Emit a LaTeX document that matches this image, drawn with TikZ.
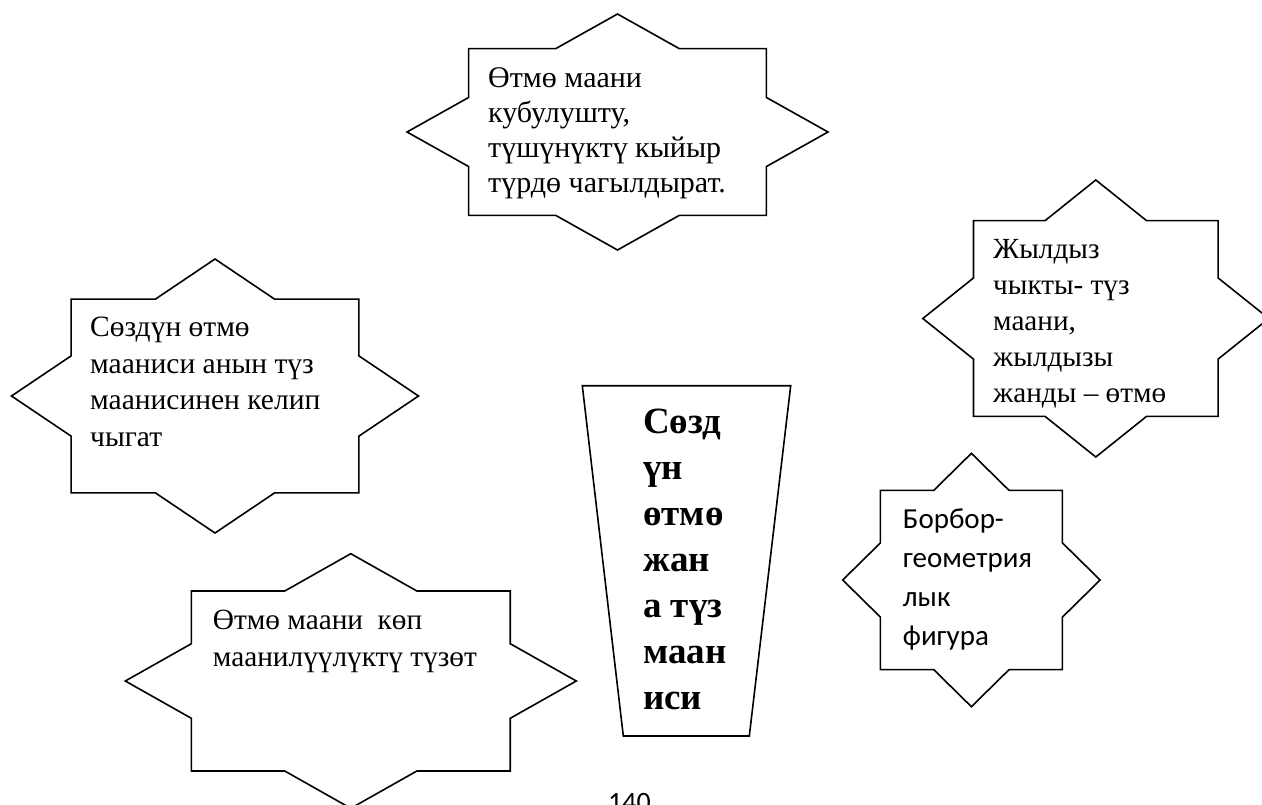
\documentclass[tikz,border=0pt]{standalone}
\usepackage{fontspec}
\setmainfont{Liberation Serif}
\newfontfamily\calibrifont{Carlito}
\tikzset{
  starline/.style={draw=black, line width=1.6pt, line join=miter, fill=white},
  startext/.style={anchor=base west, inner sep=0pt, align=left},
}
% anchor base west of a multi-line node = baseline of its last line
\newcommand\eightstar[4]{%
  \draw[starline, shift={(#1,#2)}, x=#3pt, y=#4pt]
    (0:1) -- (22.5:0.7654) -- (45:1) -- (67.5:0.7654) -- (90:1) -- (112.5:0.7654)
    -- (135:1) -- (157.5:0.7654) -- (180:1) -- (202.5:0.7654) -- (225:1)
    -- (247.5:0.7654) -- (270:1) -- (292.5:0.7654) -- (315:1) -- (337.5:0.7654) -- cycle;}
\begin{document}
\begin{tikzpicture}[x=1pt, y=-1pt]
\useasboundingbox (0,0) rectangle (1262,804);
\fill[white] (0,0) rectangle (1262,804);
\clip (0,0) rectangle (1262,804);

% stars
\eightstar{617.5}{132}{210.5}{118}
\eightstar{215}{396}{203.5}{137}
\eightstar{1095.8}{318.5}{173}{138.5}
\eightstar{971.4}{580}{128.7}{126.7}
\eightstar{350.8}{681}{225.5}{127.3}

% trapezoid
\draw[starline] (582.3,385.7) -- (790.7,385.7) -- (749.3,736) -- (623.3,736) -- cycle;

% texts (positions are the baseline of the last line)
\node[startext, font=\fontsize{30}{35}\selectfont] (t1) at (488,192)
  {Өтмө маани\\кубулушту,\\түшүнүктү кыйыр\\түрдө чагылдырат.};
\node[startext, font=\fontsize{29.5}{36.7}\selectfont] (t2) at (90,446.4)
  {Сөздүн өтмө\\мааниси анын түз\\маанисинен келип\\чыгат};
\node[startext, font=\fontsize{29.2}{36}\selectfont] (t3) at (993,402)
  {Жылдыз\\чыкты- түз\\маани,\\жылдызы\\жанды – өтмө};
\node[startext, font=\calibrifont\fontsize{29}{39}\selectfont] (t4) at (902.7,645)
  {Борбор-\\геометрия\\лык\\фигура};
\node[startext, font=\fontsize{29.3}{37.3}\selectfont] (t5) at (212.7,666.6)
  {Өтмө маани\ \ көп\\маанилүүлүктү түзөт};
\node[startext, font=\bfseries\fontsize{37}{46}\selectfont] (t6) at (643,709)
  {Сөзд\\үн\\өтмө\\жан\\а түз\\маан\\иси};
\node[startext, font=\calibrifont\fontsize{28}{34}\selectfont] (pg) at (608,811) {140};
\end{tikzpicture}
\end{document}
